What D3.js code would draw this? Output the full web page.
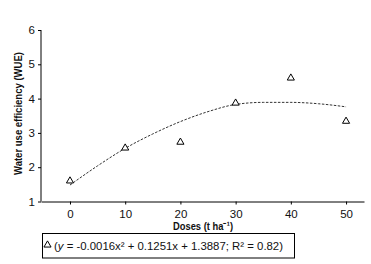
<!DOCTYPE html>
<html>
<head>
<meta charset="utf-8">
<script src="https://cdn.jsdelivr.net/npm/d3@7"></script>
<style>
  body { margin: 0; background: #fff; }
  svg { display: block; }
  text { font-family: "Liberation Sans Narrow", "Arial Narrow", "Liberation Sans", sans-serif; fill: #111; }
</style>
</head>
<body>
<div id="chart"></div>
<script>
// doses (t ha-1) and measured WUE
const doses = [0, 10, 20, 30, 40, 50];
const wue = [1.6, 2.56, 2.73, 3.87, 4.6, 3.34];

// trend line as it is drawn in the picture
const trendX = [0, 5, 10, 15, 20, 25, 30, 35, 40, 45, 50];
const trendY = [1.48, 2.04, 2.55, 2.97, 3.33, 3.62, 3.83, 3.89, 3.89, 3.85, 3.76];

const xTicks = [0, 10, 20, 30, 40, 50];
const yTicks = [1, 2, 3, 4, 5, 6];

const W = 371, H = 264;

const svg = d3.select("#chart").append("svg")
  .attr("width", W).attr("height", H);

const x = d3.scaleLinear().domain([-5.25, 53.25]).range([41, 364]);
const y = d3.scaleLinear().domain([1, 6]).range([201.5, 30]);

// axes
const xAxis = svg.append("g")
  .attr("transform", "translate(0," + y(1) + ")")
  .call(d3.axisBottom(x).tickValues(xTicks).tickFormat(d3.format("d"))
    .tickSize(3).tickSizeOuter(0).tickPadding(5));
const yAxis = svg.append("g")
  .attr("transform", "translate(" + x.range()[0] + ",0)")
  .call(d3.axisLeft(y).tickValues(yTicks).tickFormat(d3.format("d"))
    .tickSize(3).tickSizeOuter(0).tickPadding(3));

[xAxis, yAxis].forEach(g => {
  g.select(".domain").attr("stroke", "#000");
  g.selectAll(".tick line").attr("stroke", "#000");
  g.selectAll(".tick text").attr("font-size", 11.5).attr("fill", "#222")
    .style("font-family", '"Liberation Sans Narrow", "Arial Narrow", sans-serif');
});
// y axis only reaches up to the top tick
yAxis.select(".domain").attr("d", "M0," + y(6) + "V" + y(1));

// trend line
const line = d3.line()
  .x((d, i) => x(trendX[i]))
  .y(d => y(d))
  .curve(d3.curveMonotoneX);
svg.append("path")
  .datum(trendY)
  .attr("d", line)
  .attr("fill", "none")
  .attr("stroke", "#333")
  .attr("stroke-width", 1)
  .attr("stroke-dasharray", "2.5,1.5");

// triangles
const tri = d3.symbol().type(d3.symbolTriangle).size(22);
svg.append("g").selectAll("path")
  .data(doses)
  .enter().append("path")
  .attr("d", tri)
  .attr("transform", (d, i) => "translate(" + x(d) + "," + y(wue[i]) + ")")
  .attr("fill", "#fff")
  .attr("stroke", "#000")
  .attr("stroke-width", 1);

// axis titles
svg.append("text")
  .attr("x", 173).attr("y", 230)
  .attr("font-size", 11).attr("font-weight", "bold")
  .attr("textLength", 60).attr("lengthAdjust", "spacingAndGlyphs")
  .text("Doses (t ha\u207B\u00B9)");

svg.append("text")
  .attr("transform", "translate(22,175) rotate(-90)")
  .attr("font-size", 11).attr("font-weight", "bold")
  .attr("textLength", 123).attr("lengthAdjust", "spacingAndGlyphs")
  .text("Water use efficiency (WUE)");

// legend
svg.append("rect")
  .attr("x", 42.5).attr("y", 233.5)
  .attr("width", 252).attr("height", 24.5)
  .attr("fill", "none").attr("stroke", "#000");
svg.append("path")
  .attr("d", tri)
  .attr("transform", "translate(47.5,245)")
  .attr("fill", "#fff").attr("stroke", "#000");
svg.append("text")
  .attr("x", 54).attr("y", 249.5)
  .attr("font-size", 11.5)
  .attr("textLength", 229).attr("lengthAdjust", "spacingAndGlyphs")
  .html('(<tspan font-style="italic">y</tspan> = -0.0016x² + 0.1251x + 1.3887; R² = 0.82)');
</script>
</body>
</html>
